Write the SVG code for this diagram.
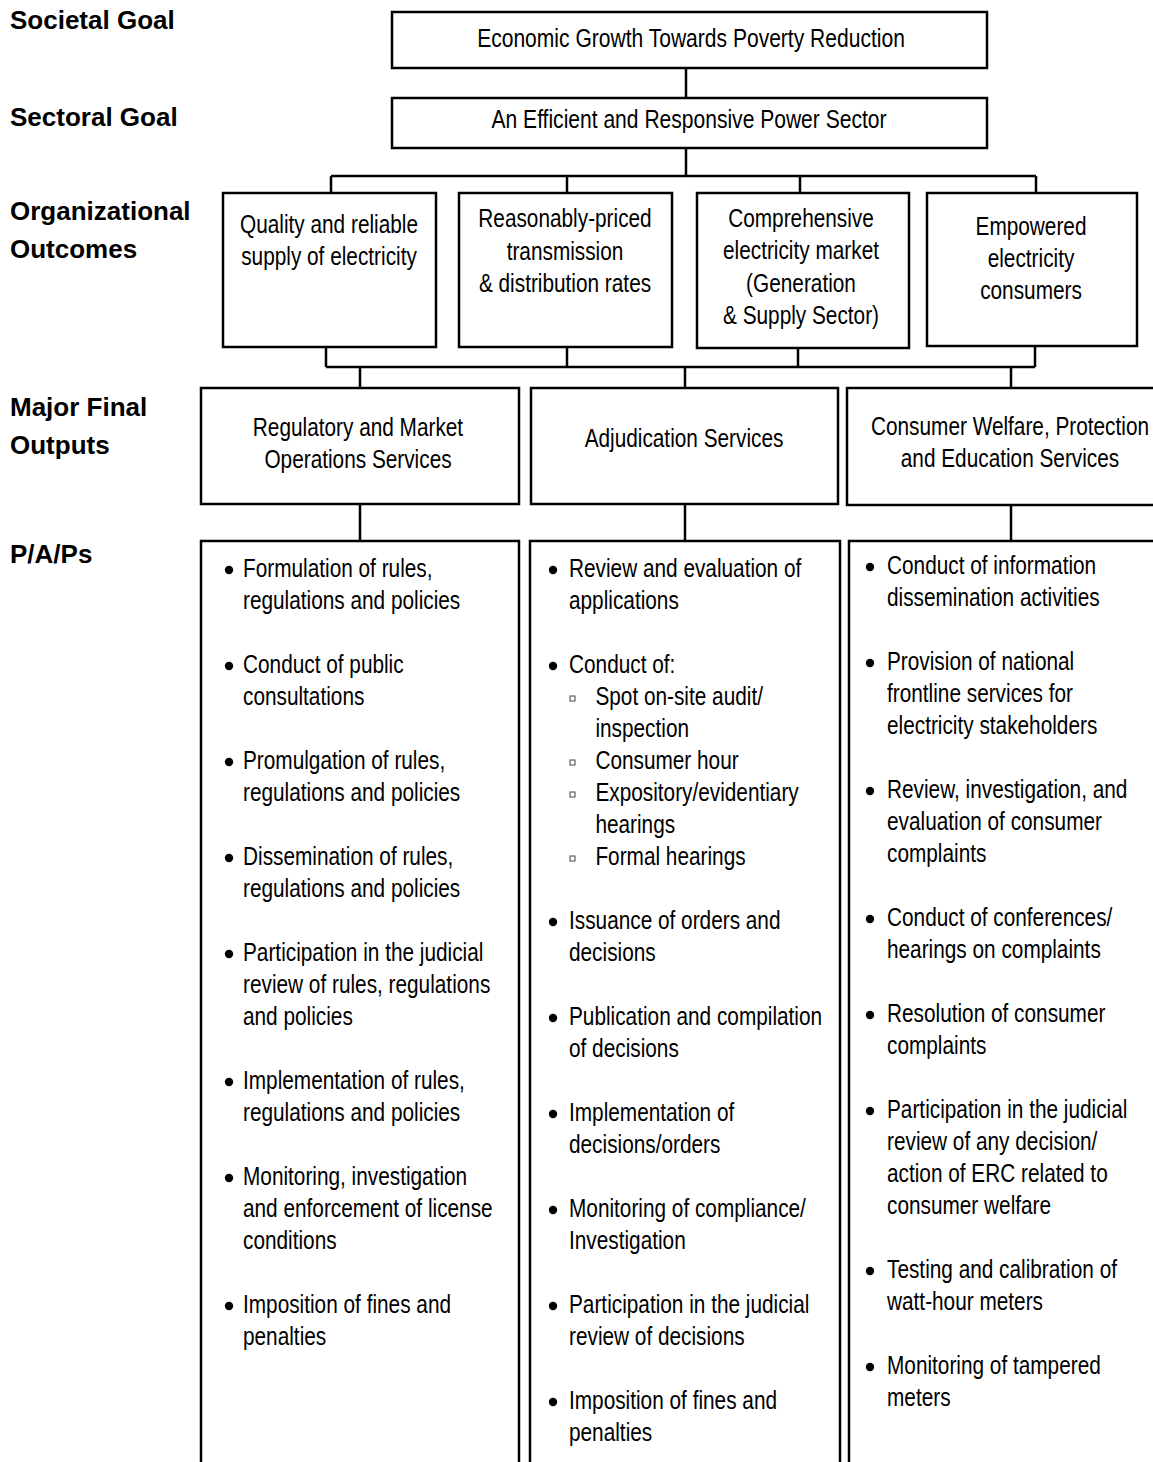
<svg xmlns="http://www.w3.org/2000/svg" width="1153" height="1462" viewBox="0 0 1153 1462">
<style>
.bg{fill:#fff}
.box{fill:#fff;stroke:#000;stroke-width:2.5}
.conn{fill:none;stroke:#000;stroke-width:2.5}
.lbl{font-family:"Liberation Sans",Arial,sans-serif;font-weight:bold;font-size:26px;fill:#000}
.t{font-family:"Liberation Sans",Arial,sans-serif;font-size:26px;fill:#000}
.c{text-anchor:middle}
.dot{fill:#000}
.sq{fill:#fff;stroke:#444;stroke-width:1}
</style>
<rect class="bg" x="0" y="0" width="1153" height="1462"/>

<g id="labels">
<text class="lbl" x="10" y="29">Societal Goal</text>
<text class="lbl" x="10" y="126">Sectoral Goal</text>
<text class="lbl" x="10" y="220">Organizational</text>
<text class="lbl" x="10" y="258">Outcomes</text>
<text class="lbl" x="10" y="416">Major Final</text>
<text class="lbl" x="10" y="454">Outputs</text>
<text class="lbl" x="10" y="563">P/A/Ps</text>
</g>

<g id="connectors">
<path class="conn" d="M686 68V98M686 148V176M331 176H1036M331 176V193M567 176V193M800 176V193M1036 176V193"/>
<path class="conn" d="M326 347V367M567 347V367M798 348V367M1035 346V367M326 367H1035M360 367V388M685 367V388M1011 367V388"/>
<path class="conn" d="M360 504V541M685 504V541M1011 505V541"/>
</g>

<g id="societal">
<rect class="box" x="392" y="12" width="595" height="56"/>
<text class="t c" transform="translate(691,47) scale(0.81,1)">Economic Growth Towards Poverty Reduction</text>
</g>
<g id="sectoral">
<rect class="box" x="392" y="98" width="595" height="50"/>
<text class="t c" transform="translate(689,128) scale(0.81,1)">An Efficient and Responsive Power Sector</text>
</g>

<g id="outcome1">
<rect class="box" x="223" y="193" width="213" height="154"/>
<text class="t c" transform="translate(329,233) scale(0.8,1)">Quality and reliable<tspan x="0" dy="32">supply of electricity</tspan></text>
</g>
<g id="outcome2">
<rect class="box" x="459" y="193" width="213" height="154"/>
<text class="t c" transform="translate(565,227) scale(0.8,1)">Reasonably-priced<tspan x="0" dy="33">transmission</tspan><tspan x="0" dy="32">&amp; distribution rates</tspan></text>
</g>
<g id="outcome3">
<rect class="box" x="697" y="193" width="212" height="155"/>
<text class="t c" transform="translate(801,227) scale(0.8,1)">Comprehensive<tspan x="0" dy="32">electricity market</tspan><tspan x="0" dy="33">(Generation</tspan><tspan x="0" dy="32">&amp; Supply Sector)</tspan></text>
</g>
<g id="outcome4">
<rect class="box" x="927" y="193" width="210" height="153"/>
<text class="t c" transform="translate(1031,235) scale(0.8,1)">Empowered<tspan x="0" dy="32">electricity</tspan><tspan x="0" dy="32">consumers</tspan></text>
</g>

<g id="output1">
<rect class="box" x="201" y="388" width="318" height="116"/>
<text class="t c" transform="translate(358,436) scale(0.8,1)">Regulatory and Market<tspan x="0" dy="32">Operations Services</tspan></text>
</g>
<g id="output2">
<rect class="box" x="531" y="388" width="307" height="116"/>
<text class="t c" transform="translate(684,447) scale(0.8,1)">Adjudication Services</text>
</g>
<g id="output3">
<rect class="box" x="847" y="388" width="320" height="117"/>
<text class="t c" transform="translate(1010,435) scale(0.8,1)">Consumer Welfare, Protection<tspan x="0" dy="32">and Education Services</tspan></text>
</g>

<g id="pap1">
<rect class="box" x="201" y="541" width="318" height="940"/>
<g class="dot">
<circle cx="229" cy="570" r="4.2"/><circle cx="229" cy="666" r="4.2"/><circle cx="229" cy="762" r="4.2"/><circle cx="229" cy="858" r="4.2"/><circle cx="229" cy="954" r="4.2"/><circle cx="229" cy="1082" r="4.2"/><circle cx="229" cy="1178" r="4.2"/><circle cx="229" cy="1306" r="4.2"/>
</g>
<text class="t" transform="translate(243,0) scale(0.8,1)">
<tspan x="0" y="577">Formulation of rules,</tspan><tspan x="0" y="609">regulations and policies</tspan>
<tspan x="0" y="673">Conduct of public</tspan><tspan x="0" y="705">consultations</tspan>
<tspan x="0" y="769">Promulgation of rules,</tspan><tspan x="0" y="801">regulations and policies</tspan>
<tspan x="0" y="865">Dissemination of rules,</tspan><tspan x="0" y="897">regulations and policies</tspan>
<tspan x="0" y="961">Participation in the judicial</tspan><tspan x="0" y="993">review of rules, regulations</tspan><tspan x="0" y="1025">and policies</tspan>
<tspan x="0" y="1089">Implementation of rules,</tspan><tspan x="0" y="1121">regulations and policies</tspan>
<tspan x="0" y="1185">Monitoring, investigation</tspan><tspan x="0" y="1217">and enforcement of license</tspan><tspan x="0" y="1249">conditions</tspan>
<tspan x="0" y="1313">Imposition of fines and</tspan><tspan x="0" y="1345">penalties</tspan>
</text>
</g>

<g id="pap2">
<rect class="box" x="530" y="541" width="310" height="940"/>
<g class="dot">
<circle cx="553" cy="570" r="4.2"/><circle cx="553" cy="666" r="4.2"/><circle cx="553" cy="922" r="4.2"/><circle cx="553" cy="1018" r="4.2"/><circle cx="553" cy="1114" r="4.2"/><circle cx="553" cy="1210" r="4.2"/><circle cx="553" cy="1306" r="4.2"/><circle cx="553" cy="1402" r="4.2"/>
</g>
<g class="sq">
<rect x="570" y="696" width="5" height="5"/><rect x="570" y="760" width="5" height="5"/><rect x="570" y="792" width="5" height="5"/><rect x="570" y="856" width="5" height="5"/>
</g>
<text class="t" transform="translate(569,0) scale(0.8,1)">
<tspan x="0" y="577">Review and evaluation of</tspan><tspan x="0" y="609">applications</tspan>
<tspan x="0" y="673">Conduct of:</tspan>
<tspan x="33" y="705">Spot on-site audit/</tspan><tspan x="33" y="737">inspection</tspan>
<tspan x="33" y="769">Consumer hour</tspan>
<tspan x="33" y="801">Expository/evidentiary</tspan><tspan x="33" y="833">hearings</tspan>
<tspan x="33" y="865">Formal hearings</tspan>
<tspan x="0" y="929">Issuance of orders and</tspan><tspan x="0" y="961">decisions</tspan>
<tspan x="0" y="1025">Publication and compilation</tspan><tspan x="0" y="1057">of decisions</tspan>
<tspan x="0" y="1121">Implementation of</tspan><tspan x="0" y="1153">decisions/orders</tspan>
<tspan x="0" y="1217">Monitoring of compliance/</tspan><tspan x="0" y="1249">Investigation</tspan>
<tspan x="0" y="1313">Participation in the judicial</tspan><tspan x="0" y="1345">review of decisions</tspan>
<tspan x="0" y="1409">Imposition of fines and</tspan><tspan x="0" y="1441">penalties</tspan>
</text>
</g>

<g id="pap3">
<rect class="box" x="849" y="541" width="320" height="940"/>
<g class="dot">
<circle cx="870" cy="567" r="4.2"/><circle cx="870" cy="663" r="4.2"/><circle cx="870" cy="791" r="4.2"/><circle cx="870" cy="919" r="4.2"/><circle cx="870" cy="1015" r="4.2"/><circle cx="870" cy="1111" r="4.2"/><circle cx="870" cy="1271" r="4.2"/><circle cx="870" cy="1367" r="4.2"/>
</g>
<text class="t" transform="translate(887,0) scale(0.8,1)">
<tspan x="0" y="574">Conduct of information</tspan><tspan x="0" y="606">dissemination activities</tspan>
<tspan x="0" y="670">Provision of national</tspan><tspan x="0" y="702">frontline services for</tspan><tspan x="0" y="734">electricity stakeholders</tspan>
<tspan x="0" y="798">Review, investigation, and</tspan><tspan x="0" y="830">evaluation of consumer</tspan><tspan x="0" y="862">complaints</tspan>
<tspan x="0" y="926">Conduct of conferences/</tspan><tspan x="0" y="958">hearings on complaints</tspan>
<tspan x="0" y="1022">Resolution of consumer</tspan><tspan x="0" y="1054">complaints</tspan>
<tspan x="0" y="1118">Participation in the judicial</tspan><tspan x="0" y="1150">review of any decision/</tspan><tspan x="0" y="1182">action of ERC related to</tspan><tspan x="0" y="1214">consumer welfare</tspan>
<tspan x="0" y="1278">Testing and calibration of</tspan><tspan x="0" y="1310">watt-hour meters</tspan>
<tspan x="0" y="1374">Monitoring of tampered</tspan><tspan x="0" y="1406">meters</tspan>
</text>
</g>
</svg>
